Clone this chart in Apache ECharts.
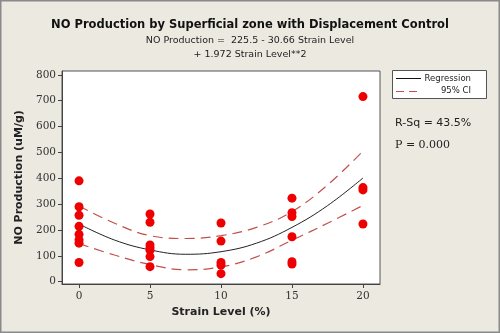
<!DOCTYPE html>
<html><head><meta charset="utf-8">
<script src="https://cdn.jsdelivr.net/npm/echarts@6/dist/echarts.min.js"></script>
<style>html,body{margin:0;padding:0;background:#ECE9E1;}#c{width:500px;height:333px;}</style>
</head><body><div id="c"></div>
<script>
// Observations (strain level %, NO production uM/g)
const strain0 = [390, 290, 257, 214, 183, 161, 149, 74];
const strain5 = [262, 230, 142, 131, 122, 97, 58];
const strain10 = [227, 157, 74, 64, 31];
const strain15 = [323, 267, 252, 174, 77, 68];
const strain20 = [716, 364, 355, 223];
// Fitted curves read at these strain levels
const curveX = [0, 2.5, 5, 7.5, 10, 12.5, 15, 17.5, 20];
const regression = [223, 161, 123, 106, 116, 149, 210, 294, 401];
const ciUpper = [293, 226, 178, 167, 178, 210, 271, 374, 505];
const ciLower = [147, 103, 66, 46, 57, 96, 160, 226, 295];
const xTicks = [0, 5, 10, 15, 20];
const yTicks = [0, 100, 200, 300, 400, 500, 600, 700, 800];

const pts = [];
[[0, strain0], [5, strain5], [10, strain10], [15, strain15], [20, strain20]].forEach(([x, arr]) => arr.forEach(v => pts.push([x, v])));
const pair = arr => curveX.map((x, i) => [x, arr[i]]);

const chart = echarts.init(document.getElementById('c'));
const ciColor = '#C0504D';
chart.setOption({
  backgroundColor: '#ECE9E1',
  animation: false,
  grid: { left: 62, right: 120, top: 71, bottom: 49, show: true, backgroundColor: '#fff', borderColor: '#555', borderWidth: 1 },
  xAxis: {
    type: 'value', min: -1.2, max: 21.2,
    name: 'Strain Level (%)', nameLocation: 'middle', nameGap: 22,
    nameTextStyle: { fontFamily: 'DejaVu Sans', fontWeight: 'bold', fontSize: 11, color: '#222' },
    axisLine: { show: true, onZero: false, lineStyle: { color: '#444' } },
    axisTick: { show: true, length: 4, inside: false, customValues: xTicks, lineStyle: { color: '#444' } },
    axisLabel: { customValues: xTicks, fontFamily: 'DejaVu Serif', fontSize: 10.5, color: '#333', margin: 7 },
    splitLine: { show: false }
  },
  yAxis: {
    type: 'value', min: -9, max: 815,
    name: 'NO Production (uM/g)', nameLocation: 'middle', nameGap: 34,
    nameTextStyle: { fontFamily: 'DejaVu Sans', fontWeight: 'bold', fontSize: 11, color: '#222' },
    axisLine: { show: true, onZero: false, lineStyle: { color: '#444' } },
    axisTick: { show: true, length: 4, customValues: yTicks, lineStyle: { color: '#444' } },
    axisLabel: { customValues: yTicks, fontFamily: 'DejaVu Serif', fontSize: 10.5, color: '#333', margin: 6 },
    splitLine: { show: false }
  },
  series: [
    { type: 'line', data: pair(ciUpper), smooth: 0.4, symbol: 'none', lineStyle: { color: ciColor, width: 1.2, type: [10, 6] }, z: 2 },
    { type: 'line', data: pair(ciLower), smooth: 0.4, symbol: 'none', lineStyle: { color: ciColor, width: 1.2, type: [10, 6] }, z: 2 },
    { type: 'line', data: pair(regression), smooth: 0.4, symbol: 'none', lineStyle: { color: '#222', width: 1 }, z: 3 },
    { type: 'scatter', data: pts, symbol: 'circle', symbolSize: 9, itemStyle: { color: '#EE0000', opacity: 1 }, z: 4 }
  ],
  graphic: [
    { type: 'rect', shape: { x: 0.5, y: 0.5, width: 499, height: 332 }, style: { fill: 'none', stroke: '#8a8a8a', lineWidth: 2 }, silent: true },
    { type: 'text', left: 'center', top: 19, style: { text: 'NO Production by Superficial zone with Displacement Control', fontFamily: 'DejaVu Sans', fontWeight: 'bold', fontSize: 11.5, fill: '#111' } },
    { type: 'text', left: 'center', top: 36, style: { text: 'NO Production =  225.5 - 30.66 Strain Level', fontFamily: 'DejaVu Sans', fontSize: 9.5, fill: '#222' } },
    { type: 'text', left: 'center', top: 50, style: { text: '+ 1.972 Strain Level**2', fontFamily: 'DejaVu Sans', fontSize: 9.5, fill: '#222' } },
    { type: 'rect', shape: { x: 392.5, y: 70.5, width: 94, height: 28 }, style: { fill: '#fff', stroke: '#555', lineWidth: 1 } },
    { type: 'line', shape: { x1: 396, y1: 78.5, x2: 421, y2: 78.5 }, style: { stroke: '#111', lineWidth: 1 } },
    { type: 'line', shape: { x1: 396, y1: 91.5, x2: 421, y2: 91.5 }, style: { stroke: ciColor, lineWidth: 1.2, lineDash: [8, 5] } },
    { type: 'text', x: 471, y: 79, style: { text: 'Regression', align: 'right', verticalAlign: 'middle', fontFamily: 'DejaVu Sans', fontSize: 8.5, fill: '#222' } },
    { type: 'text', x: 471, y: 91, style: { text: '95% CI', align: 'right', verticalAlign: 'middle', fontFamily: 'DejaVu Sans', fontSize: 8.5, fill: '#222' } },
    { type: 'text', x: 395, y: 123, style: { text: 'R-Sq = 43.5%', verticalAlign: 'middle', fontFamily: 'DejaVu Sans', fontSize: 11, fill: '#222' } },
    { type: 'text', x: 395, y: 145, style: { text: 'P = 0.000', verticalAlign: 'middle', fontFamily: 'DejaVu Serif', fontSize: 11, fill: '#222' } }
  ]
});
</script></body></html>
